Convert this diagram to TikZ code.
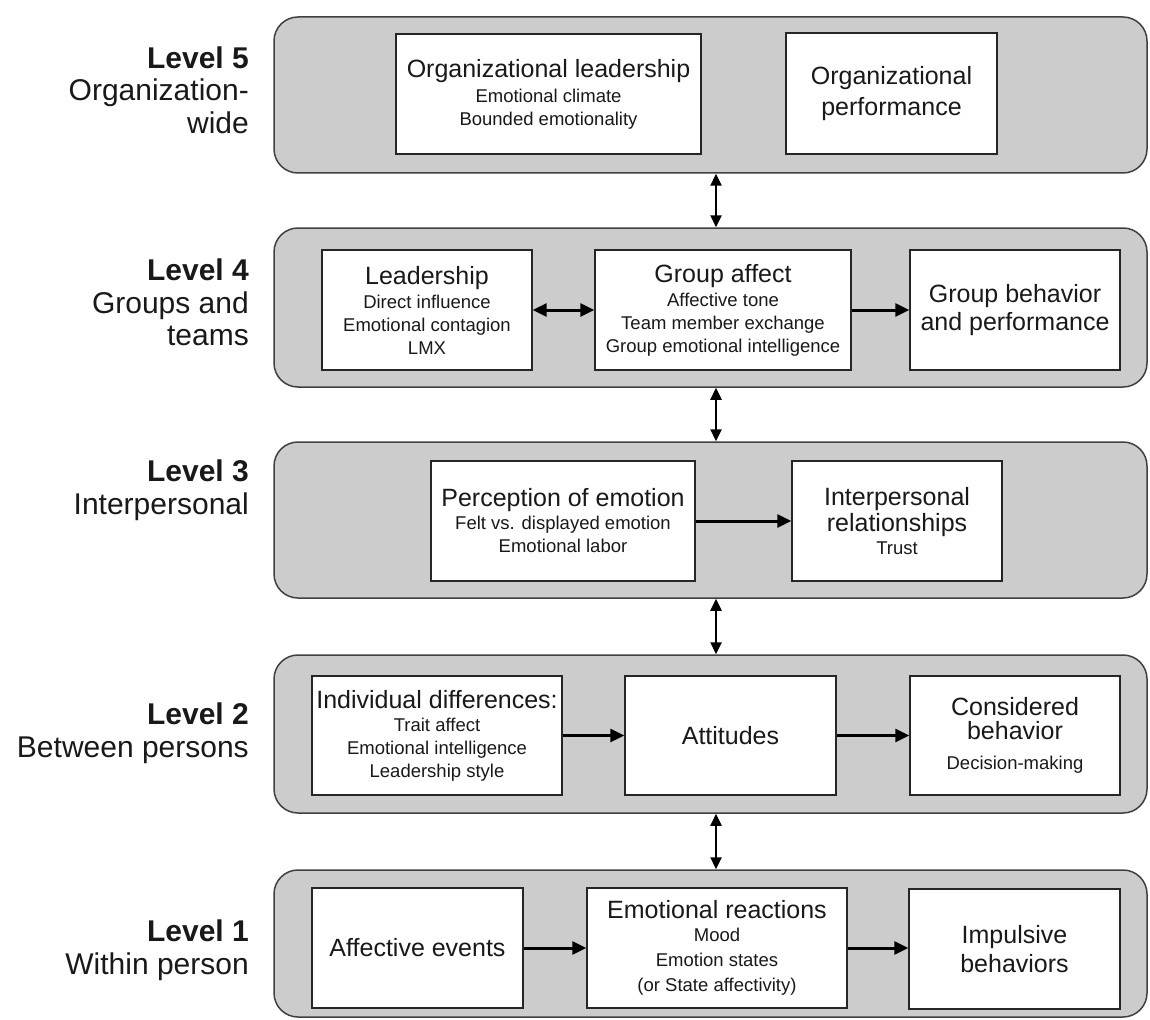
\documentclass[tikz,border=0pt]{standalone}
\usepackage{fontspec}
\setmainfont{Liberation Sans}
\usetikzlibrary{arrows.meta}
\newcommand\tfont{\fontsize{25}{28}\selectfont}
\newcommand\subfont{\fontsize{18.5}{23}\selectfont}
\newcommand\lvlfont{\fontsize{30}{32.5}\selectfont}
\begin{document}
\begin{tikzpicture}[x=1pt,y=-1pt,
 panel/.style={draw=black!75, line width=1.5pt, fill=black!20, rounded corners=24pt, minimum width=873pt, inner sep=0pt},
 box/.style={draw=black!85, line width=1.4pt, fill=white, inner sep=0pt, align=center, font=\subfont, text=black!90, minimum height=120pt},
 lbl/.style={anchor=east, align=right, font=\lvlfont, inner sep=0pt, text=black!90},
 harrow/.style={line width=3pt, -{Triangle[length=14pt,width=13pt]}},
 hdarrow/.style={line width=3pt, {Triangle[length=14pt,width=13pt]}-{Triangle[length=14pt,width=13pt]}},
 varrow/.style={line width=2.4pt, {Triangle[length=12pt,width=11pt]}-{Triangle[length=12pt,width=11pt]}}
]
\useasboundingbox (0,0) rectangle (1150,1019);

% panels
\node[panel, minimum height=156pt] (p5) at (710.5,95) {};
\node[panel, minimum height=159pt] (p4) at (710.5,307.5) {};
\node[panel, minimum height=156pt] (p3) at (710.5,520) {};
\node[panel, minimum height=158pt] (p2) at (710.5,734) {};
\node[panel, minimum height=147pt] (p1) at (710.5,943.5) {};

% level labels
\node[lbl] (l5) at (249,90) {\textbf{Level 5}\\ Organization-\\ wide};
\node[lbl] (l4) at (249,302.5) {\textbf{Level 4}\\ Groups and\\ teams};
\node[lbl] (l3) at (249,490) {\textbf{Level 3}\\ Interpersonal};
\node[lbl] (l2) at (249,733) {\textbf{Level 2}\\ Between persons};
\node[lbl] (l1) at (249,950) {\textbf{Level 1}\\ Within person};

% level 5
\node[box, minimum width=305pt] (ol) at (548.5,94) {{\tfont Organizational leadership}\\[2pt] Emotional climate\\ Bounded emotionality};
\node[box, minimum width=211pt, minimum height=121pt] (op) at (891.5,93.5) {{\tfont Organizational}\\[6pt]{\tfont performance}};

% level 4
\node[box, minimum width=210pt] (lead) at (427,310) {{\tfont Leadership}\\[1pt] Direct influence\\ Emotional contagion\\ LMX};
\node[box, minimum width=256pt] (ga) at (723,310) {{\tfont Group affect}\\[1pt] Affective tone\\ Team member exchange\\ Group emotional intelligence};
\node[box, minimum width=210pt] (gb) at (1015,310) {{\tfont Group behavior}\\[4pt]{\tfont and performance}};

% level 3
\node[box, minimum width=264pt] (pe) at (563,521) {{\tfont Perception of emotion}\\ Felt vs. displayed emotion\\ Emotional labor};
\node[box, minimum width=210pt] (ir) at (897,521) {{\tfont Interpersonal}\\[1pt]{\tfont relationships}\\ Trust};

% level 2
\node[box, minimum width=250pt, minimum height=119pt] (id) at (437,735.5) {{\tfont Individual differences:}\\ Trait affect\\ Emotional intelligence\\ Leadership style};
\node[box, minimum width=211pt, minimum height=119pt] (at) at (730.5,735.5) {{\tfont Attitudes}};
\node[box, minimum width=210pt, minimum height=119pt] (cb) at (1015,735.5) {{\tfont Considered}\\[1pt]{\tfont behavior}\\[7pt] Decision-making};

% level 1
\node[box, minimum width=211pt] (ae) at (417.5,948) {{\tfont Affective events}};
\node[box, minimum width=260pt] (er) at (717,948) {{\tfont Emotional reactions}\\ Mood\\[2pt] Emotion states\\[2pt] (or State affectivity)};
\node[box, minimum width=211pt] (ib) at (1014.5,949) {{\tfont Impulsive}\\[4pt]{\tfont behaviors}};

% horizontal connectors
\draw[hdarrow] (lead.east) -- (ga.west);
\draw[harrow] (ga.east) -- (gb.west);
\draw[harrow] (pe.east) -- (ir.west);
\draw[harrow] (id.east) -- (at.west);
\draw[harrow] (at.east) -- (cb.west);
\draw[harrow] (ae.east) -- (er.west);
\draw[harrow] (er.east) -- (ib.west |- er.east);

% vertical connectors
\coordinate (ax) at (716,0);
\draw[varrow] (p5.south -| ax) -- (p4.north -| ax);
\draw[varrow] (p4.south -| ax) -- (p3.north -| ax);
\draw[varrow] (p3.south -| ax) -- (p2.north -| ax);
\draw[varrow] (p2.south -| ax) -- (p1.north -| ax);
\end{tikzpicture}
\end{document}
